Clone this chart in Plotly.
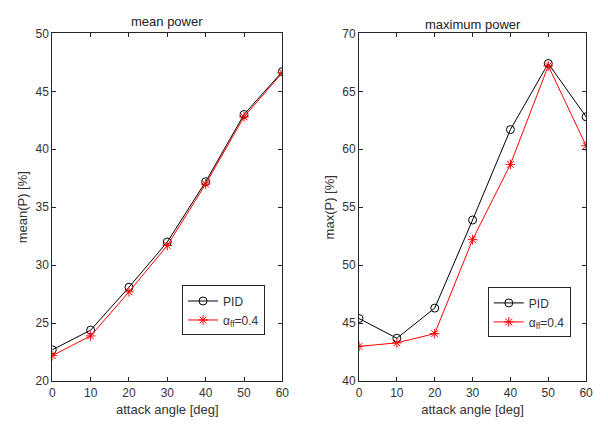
import plotly.graph_objects as go

angles = [0, 10, 20, 30, 40, 50, 60]
mean_pid = [22.7, 24.4, 28.1, 32.0, 37.2, 43.0, 46.7]
mean_ff = [22.2, 23.9, 27.7, 31.7, 37.0, 42.8, 46.6]
max_pid = [45.4, 43.7, 46.3, 53.9, 61.7, 67.4, 62.8]
max_ff = [43.0, 43.3, 44.1, 52.2, 58.7, 67.2, 60.3]

# page body has an 8px margin; size the figure so the page is 608x428
OFF = 8
W, H = 592, 412
FONT = "Liberation Sans, Arial, sans-serif"
AX = "#262626"
TXT = "#333333"


def px(x):
    return (x - OFF) / W


def py(y):
    return 1 - (y - OFF) / H


fig = go.Figure()


def add(x, y, name, color, symbol, xa, ya, legend):
    fig.add_trace(go.Scatter(
        x=x, y=y, mode="lines+markers", name=name,
        line=dict(color=color, width=1),
        marker=dict(symbol=symbol, size=8, color=color,
                    line=dict(color=color, width=1)),
        xaxis=xa, yaxis=ya, legend=legend, showlegend=True))


add(angles, mean_pid, "PID", "black", "circle-open", "x", "y", "legend")
add(angles, mean_ff, "α<sub>ff</sub>=0.4", "red", "asterisk-open", "x", "y", "legend")
add(angles, max_pid, "PID", "black", "circle-open", "x2", "y2", "legend2")
add(angles, max_ff, "α<sub>ff</sub>=0.4", "red", "asterisk-open", "x2", "y2", "legend2")


def xax(dom, anchor):
    return dict(domain=dom, anchor=anchor, range=[0, 60], tickvals=angles,
                ticks="inside", ticklen=4, tickcolor=AX, showline=True, linecolor=AX,
                linewidth=1, mirror="ticks", showgrid=False, zeroline=False,
                tickfont=dict(size=12, color=TXT, family=FONT),
                title=dict(text="attack angle [deg]",
                           font=dict(size=13, color=TXT, family=FONT), standoff=6))


def yax(anchor, rng, title):
    return dict(domain=[py(387), py(27)], anchor=anchor, range=rng, dtick=5,
                ticks="inside", ticklen=4, tickcolor=AX, showline=True, linecolor=AX,
                linewidth=1, mirror="ticks", showgrid=False, zeroline=False,
                tickfont=dict(size=12, color=TXT, family=FONT),
                title=dict(text=title, font=dict(size=13, color=TXT, family=FONT), standoff=4))


leg_common = dict(bgcolor="white", bordercolor=AX, borderwidth=1,
                  font=dict(size=12, color=TXT, family=FONT),
                  xanchor="left", yanchor="top", itemwidth=30, tracegroupgap=0)

fig.update_layout(
    width=W, height=H, margin=dict(l=0, r=0, t=0, b=0),
    paper_bgcolor="white", plot_bgcolor="white",
    font=dict(family=FONT, color=TXT),
    xaxis=xax([px(50), px(284)], "y"),
    yaxis=yax("x", [20, 50], "mean(P) [%]"),
    xaxis2=xax([px(362), px(593)], "y2"),
    yaxis2=yax("x2", [40, 70], "max(P) [%]"),
    legend=dict(x=px(182), y=py(288), **leg_common),
    legend2=dict(x=px(493), y=py(290), **leg_common),
    annotations=[
        dict(text="mean power", x=px((50 + 284) / 2), y=py(15), xref="paper", yref="paper",
             showarrow=False, font=dict(size=13, color="#222", family=FONT),
             xanchor="center", yanchor="middle"),
        dict(text="maximum power", x=px((362 + 593) / 2), y=py(18), xref="paper", yref="paper",
             showarrow=False, font=dict(size=13, color="#222", family=FONT),
             xanchor="center", yanchor="middle"),
    ],
    showlegend=True,
)

fig.write_html("out.html")
